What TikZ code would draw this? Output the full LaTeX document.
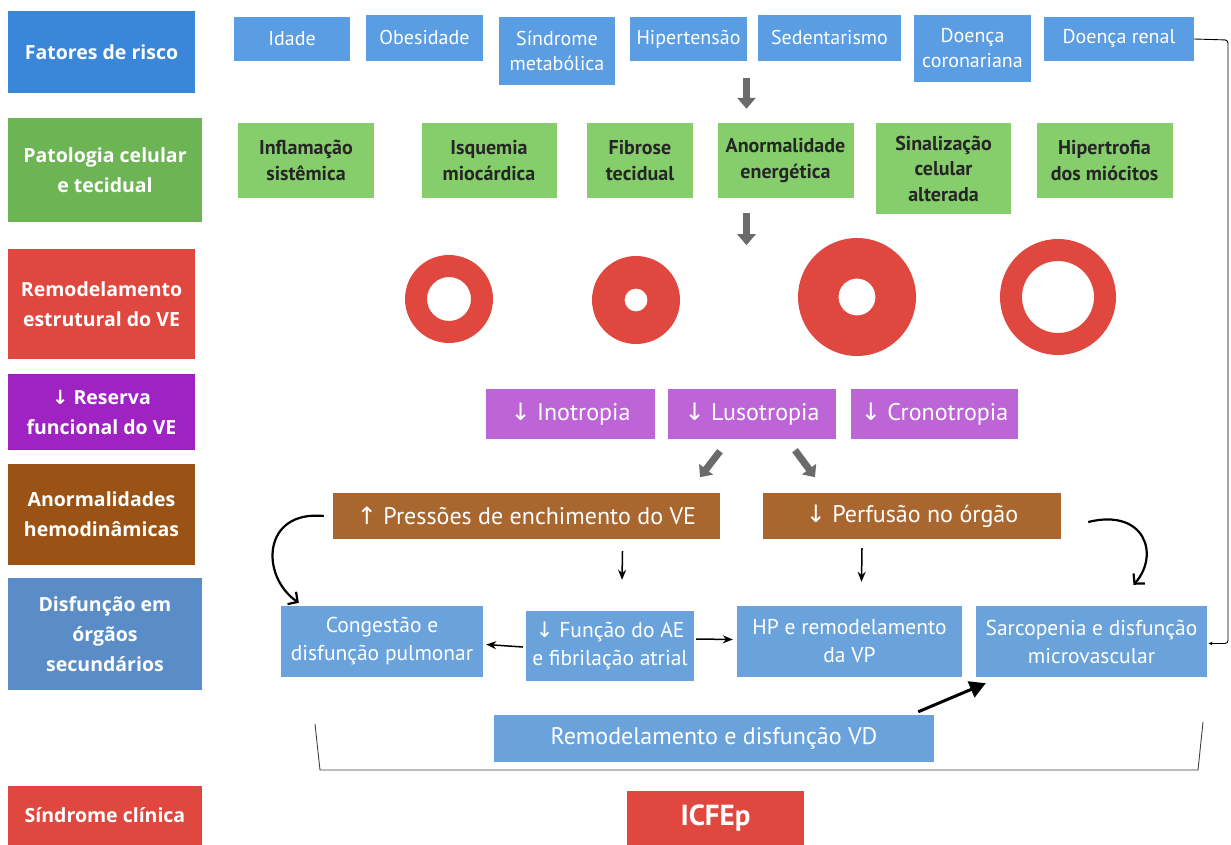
\documentclass[tikz,border=0pt]{standalone}
\usepackage{fontspec}
\setmainfont{PT Sans}
\newfontfamily\catfont{Open Sans}
\newfontfamily\arrfont{DejaVu Sans}
\usetikzlibrary{arrows.meta}
\definecolor{catblue}{HTML}{3A86D9}
\definecolor{riskblue}{HTML}{5B9DE2}
\definecolor{catgreen}{HTML}{6DB554}
\definecolor{cellgreen}{HTML}{86CE6B}
\definecolor{lvred}{HTML}{E0483F}
\definecolor{catpurple}{HTML}{9E23C2}
\definecolor{respurple}{HTML}{BD64D7}
\definecolor{catbrown}{HTML}{9A5314}
\definecolor{hemobrown}{HTML}{A9672F}
\definecolor{catsteel}{HTML}{5A8DC8}
\definecolor{organblue}{HTML}{6AA3DC}
\definecolor{bigarrow}{HTML}{6B6B6B}
\def\dn{{\arrfont ↓}}
\def\up{{\arrfont ↑}}
\tikzset{
  catbox/.style={fill=#1, text=white, align=center, inner sep=0pt,
    font=\catfont\bfseries\fontsize{19.5}{30}\selectfont},
  riskbox/.style={fill=riskblue, text=white, align=center, inner sep=0pt,
    font=\fontsize{20}{25}\selectfont},
  cellbox/.style={fill=cellgreen, text=black!85, align=center, inner sep=0pt,
    font=\bfseries\fontsize{20}{25.5}\selectfont},
  resbox/.style={fill=respurple, text=white, align=center, inner sep=0pt,
    font=\fontsize{24}{28}\selectfont},
  hemobox/.style={fill=hemobrown, text=white, align=center, inner sep=0pt,
    font=\fontsize{24}{28}\selectfont},
  organbox/.style={fill=organblue, text=white, align=center, inner sep=0pt,
    font=\fontsize{21.5}{28}\selectfont},
  grayarrow/.style={bigarrow, line width=7pt, -{Triangle[length=11pt,width=18pt]}},
  thinarrow/.style={line width=1.5pt, -{Stealth[length=10pt,width=8pt]}},
  curvearrow/.style={line width=2.2pt, -{Straight Barb[length=7pt,width=15pt]}}
}
\begin{document}
\begin{tikzpicture}[x=1pt,y=-1pt]
  \useasboundingbox (0,0) rectangle (1231,845);
  %%%%% CATEGORIES %%%%%
  \node[catbox=catblue, minimum width=187pt, minimum height=82pt] (fatores) at (101.5,52) {Fatores de risco};
  \node[catbox=catgreen, minimum width=194pt, minimum height=104pt] (patol) at (105,170) {Patologia celular\\e tecidual};
  \node[catbox=lvred, minimum width=187pt, minimum height=110pt] (remod) at (101.5,304) {Remodelamento\\estrutural do VE};
  \node[catbox=catpurple, minimum width=187pt, minimum height=76pt] (reserva) at (101.5,412) {\dn{} Reserva\\funcional do VE};
  \node[catbox=catbrown, minimum width=187pt, minimum height=101pt] (hemod) at (101.5,514.5) {Anormalidades\\hemodinâmicas};
  \node[catbox=catsteel, minimum width=194pt, minimum height=112pt] (orgaos) at (105,634) {Disfunção em\\órgãos\\secundários};
  \node[catbox=lvred, minimum width=194pt, minimum height=59pt] (sindrome) at (105,815.5) {Síndrome clínica};

  %%%%% RISK FACTORS %%%%%
  \node[riskbox, minimum width=116pt, minimum height=44pt] (idade) at (292,39) {Idade};
  \node[riskbox, minimum width=117pt, minimum height=46pt] (obes) at (424.5,38) {Obesidade};
  \node[riskbox, minimum width=116pt, minimum height=68pt] (sindmet) at (557,51) {Síndrome\\metabólica};
  \node[riskbox, minimum width=117pt, minimum height=44pt] (hipert) at (688.5,39) {Hipertensão};
  \node[riskbox, minimum width=143pt, minimum height=46pt] (sedent) at (829.5,38) {Sedentarismo};
  \node[riskbox, minimum width=117pt, minimum height=67pt] (coron) at (972.5,48.5) {Doença\\coronariana};
  \node[riskbox, minimum width=150pt, minimum height=44pt] (renal) at (1119,39) {Doença renal};

  %%%%% CELL PATHOLOGY %%%%%
  \node[cellbox, minimum width=136pt, minimum height=75pt] (inflam) at (306,160.5) {Inflamação\\sistêmica};
  \node[cellbox, minimum width=135pt, minimum height=75pt] (isquem) at (489,160.5) {Isquemia\\miocárdica};
  \node[cellbox, minimum width=106pt, minimum height=75pt] (fibrose) at (640,160.5) {Fibrose\\tecidual};
  \node[cellbox, minimum width=136pt, minimum height=75pt] (energ) at (785.5,160.5) {Anormalidade\\energética};
  \node[cellbox, minimum width=135pt, minimum height=91pt] (sinal) at (943.5,168.5) {Sinalização\\celular\\alterada};
  \node[cellbox, minimum width=136pt, minimum height=75pt] (miocit) at (1104.5,160.5) {Hipertrofia\\dos miócitos};

  \draw[grayarrow] ([xshift=-39pt,yshift=45pt]energ.north) -- ([xshift=-39pt,yshift=14pt]energ.north);
  \draw[grayarrow] ([xshift=-39pt,yshift=-15pt]energ.south) -- ([xshift=-39pt,yshift=-47pt]energ.south);

  %%%%% LV RINGS %%%%%
  \fill[lvred, even odd rule] (449,299) circle (44pt) (449,299) circle (22pt);
  \fill[lvred, even odd rule] (636,300) circle (44pt) (636,300) circle (11.5pt);
  \fill[lvred, even odd rule] (857,297) circle (59pt) (857,297) circle (18.5pt);
  \fill[lvred, even odd rule] (1058,297) circle (58pt) (1058,297) circle (36pt);

  %%%%% RESERVE %%%%%
  \node[resbox, minimum width=169pt, minimum height=50pt] (ino) at (570.5,414) {\dn{} Inotropia};
  \node[resbox, minimum width=168pt, minimum height=50pt] (luso) at (752,414) {\dn{} Lusotropia};
  \node[resbox, minimum width=167pt, minimum height=50pt] (crono) at (934.5,414) {\dn{} Cronotropia};

  \draw[bigarrow, line width=7pt, -{Triangle[length=10pt,width=17pt]}] ([xshift=-32pt,yshift=-12pt]luso.south) -- ([xshift=-52pt,yshift=-38pt]luso.south);
  \draw[bigarrow, line width=7pt, -{Triangle[length=10pt,width=17pt]}] ([xshift=43pt,yshift=-11pt]luso.south) -- ([xshift=63pt,yshift=-38pt]luso.south);

  %%%%% HEMODYNAMICS %%%%%
  \node[hemobox, minimum width=387pt, minimum height=46pt] (press) at (526.5,516) {\up{} Pressões de enchimento do VE};
  \node[hemobox, minimum width=298pt, minimum height=46pt] (perf) at (912,516) {\dn{} Perfusão no órgão};

  %%%%% ORGANS %%%%%
  \node[organbox, minimum width=202pt, minimum height=71pt] (cong) at (382,641.5) {Congestão e\\disfunção pulmonar};
  \node[organbox, minimum width=168pt, minimum height=70pt] (fae) at (610,646) {\dn{} Função do AE\\e fibrilação atrial};
  \node[organbox, minimum width=225pt, minimum height=71pt] (hpvp) at (849.5,641.5) {HP e remodelamento\\da VP};
  \node[organbox, minimum width=231pt, minimum height=71pt] (sarc) at (1091.5,641.5) {Sarcopenia e disfunção\\microvascular};
  \node[organbox, font=\fontsize{24}{28}\selectfont, minimum width=440pt, minimum height=47pt] (vd) at (714,738.5) {Remodelamento e disfunção VD};

  \draw[thinarrow] ([xshift=96pt,yshift=-12pt]press.south) -- ([xshift=12pt,yshift=31pt]fae.north);
  \draw[thinarrow] ([xshift=-50pt,yshift=-9pt]perf.south) -- ([xshift=12pt,yshift=24pt]hpvp.north);
  \draw[thinarrow] ([xshift=-3pt,yshift=-1pt]fae.west) -- ([xshift=3pt,yshift=-3pt]cong.east);
  \draw[thinarrow] ([xshift=2pt,yshift=7pt]fae.east) -- ([xshift=-4pt,yshift=2pt]hpvp.west);
  \draw[curvearrow] ([xshift=-9pt]press.west) .. controls (262,510) and (260,576) .. ([xshift=18pt,yshift=3pt]cong.north west);
  \draw[curvearrow] ([xshift=27pt,yshift=-6pt]perf.east) .. controls (1145,508) and (1160,555) .. ([xshift=42pt,yshift=21pt]sarc.north);
  \draw[line width=3pt, -{Triangle[length=16pt,width=17pt]}] ([xshift=-16pt,yshift=3pt]vd.north east) -- ([xshift=10pt,yshift=-6pt]sarc.south west);
  \coordinate (rside) at (1228,40);
  \draw[line width=0.9pt, rounded corners=3pt, -{Latex[length=4pt,width=4pt]}] (renal.east) -- (rside) |- ([xshift=1pt,yshift=-2pt]sarc.east);

  % bracket
  \draw[black!75, line width=0.9pt] (315,724) -- (320,770) -- (1198,770) -- (1203,722);

  %%%%% SYNDROME %%%%%
  \node[fill=lvred, text=white, inner sep=0pt, font=\bfseries\fontsize{29}{32}\selectfont, minimum width=177pt, minimum height=54pt] (icfep) at (715.5,818) {ICFEp};
\end{tikzpicture}
\end{document}
